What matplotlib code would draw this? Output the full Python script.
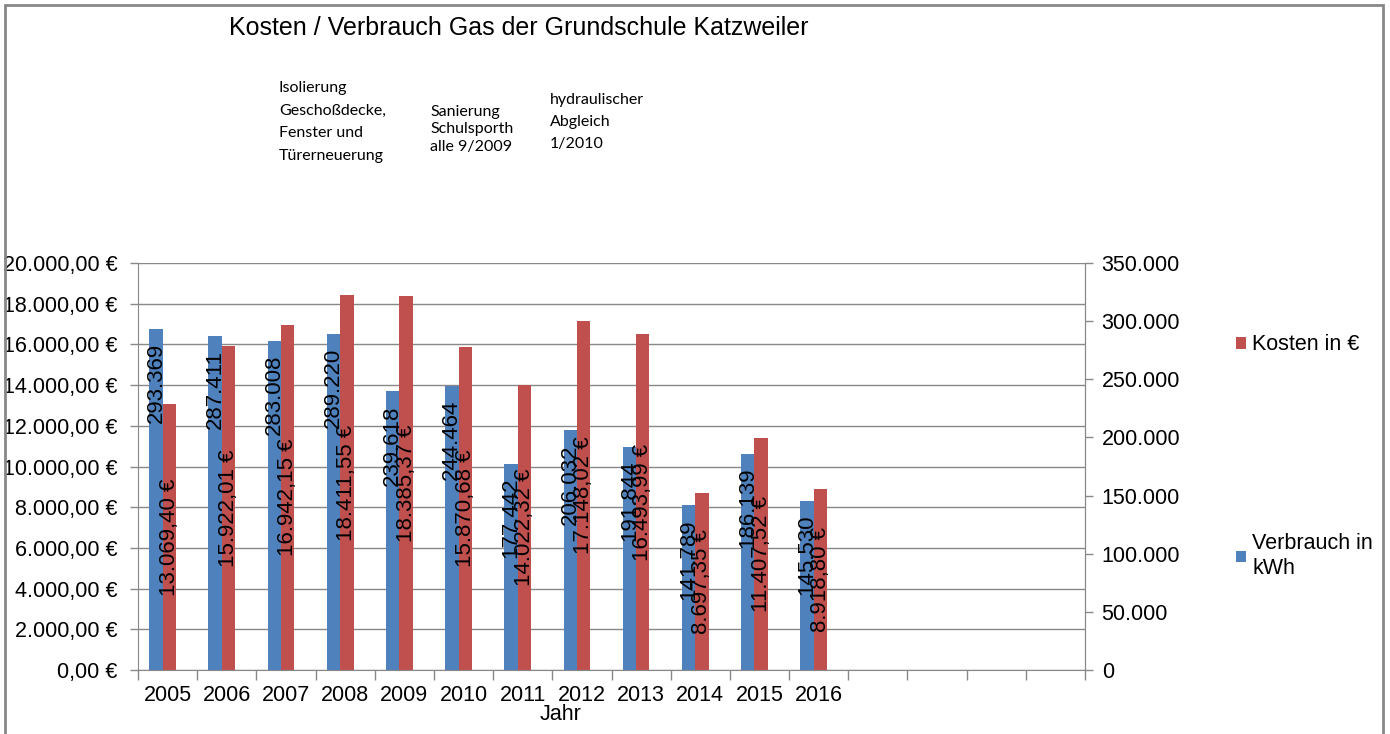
import matplotlib
matplotlib.use("Agg")
import matplotlib.pyplot as plt
from matplotlib.patches import Rectangle
from matplotlib.ticker import FixedLocator, NullFormatter

plt.rcParams['font.family'] = ['Liberation Sans', 'DejaVu Sans']

# Daten
jahre = ['2005', '2006', '2007', '2008', '2009', '2010',
         '2011', '2012', '2013', '2014', '2015', '2016']
verbrauch = [293369, 287411, 283008, 289220, 239618, 244464,
             177442, 206032, 191844, 141789, 186139, 145530]
kosten = [13069.40, 15922.01, 16942.15, 18411.55, 18385.37, 15870.68,
          14022.32, 17148.02, 16493.99, 8697.35, 11407.52, 8918.80]
n_slots = 16  # 4 leere Kategorien am Ende

blau = '#4F81BD'
rot = '#C0504D'
grau = '#888888'


def de_int(v):
    return f"{v:,}".replace(',', '.')


def de_euro(v):
    s = f"{v:,.2f}".replace(',', '#').replace('.', ',').replace('#', '.')
    return s + ' €'


fig = plt.figure(figsize=(13.9, 7.34), dpi=100)
ax = fig.add_axes([138/1390, 1 - 670/734, (1085-138)/1390, (670-263)/734])
ax2 = ax.twinx()

x = list(range(len(jahre)))
bw = 0.226
xb = [i - 0.197 for i in x]
xr = [i + 0.029 for i in x]

bars_k = ax.bar(xr, kosten, width=bw, color=rot, zorder=2)
bars_v = ax2.bar(xb, verbrauch, width=bw, color=blau, zorder=2)

ax.set_xlim(-0.5, n_slots - 0.5)
ax.set_ylim(0, 20000)
ax2.set_ylim(0, 350000)

# linke Achse
yt = list(range(0, 20001, 2000))
ax.set_yticks(yt)
ax.set_yticklabels([de_euro(v) for v in yt])
ax.yaxis.grid(True, color=grau, lw=1)
ax.set_axisbelow(True)

# rechte Achse
yt2 = list(range(0, 350001, 50000))
ax2.set_yticks(yt2)
ax2.set_yticklabels(['0'] + [de_int(v) for v in yt2[1:]])

# x-Achse: Striche an den Grenzen, Beschriftung in der Mitte
ax.xaxis.set_major_locator(FixedLocator([i - 0.5 for i in range(n_slots + 1)]))
ax.xaxis.set_major_formatter(NullFormatter())
ax.xaxis.set_minor_locator(FixedLocator(x))
ax.set_xticklabels(jahre, minor=True)
ax.tick_params(axis='x', which='major', length=7, width=1, color=grau, direction='out')
ax.tick_params(axis='x', which='minor', length=0, pad=11, labelsize=15.5)
ax.tick_params(axis='y', length=6, width=1, color=grau, pad=8.5, labelsize=15.5)
ax2.tick_params(axis='y', length=6, width=1, color=grau, pad=6, labelsize=15.5)

for a in (ax, ax2):
    a.spines['top'].set_visible(False)
    for s in ('left', 'right', 'bottom'):
        a.spines[s].set_color(grau)
ax2.spines['left'].set_visible(False)
ax2.spines['bottom'].set_visible(False)

# Datenbeschriftungen
for xi, v in zip(xb, verbrauch):
    ax2.annotate(de_int(v), xy=(xi, v), xytext=(0, -10), textcoords='offset points',
                 rotation=90, ha='center', va='top', fontsize=16, zorder=5)
for xi, k in zip(xr, kosten):
    ax2.annotate(de_euro(k), xy=(xi, k / 2), xycoords=ax.transData,
                 rotation=90, ha='center', va='center', fontsize=16, zorder=5)

# Titel und Achsentitel
fig.text(519/1390, 1 - 28/734, 'Kosten / Verbrauch Gas der Grundschule Katzweiler',
         ha='center', va='center', fontsize=18)
fig.text(561/1390, 1 - 715/734, 'Jahr', ha='center', va='center', fontsize=15.5)

# Anmerkungen
notizen = [
    (279, 88, 22.7, ['Isolierung', 'Geschoßdecke,', 'Fenster und', 'Türerneuerung']),
    (430, 112, 17.5, ['Sanierung', 'Schulsporth', 'alle 9/2009']),
    (550, 100, 22, ['hydraulischer', 'Abgleich', '1/2010']),
]
for nx, ny, dy, zeilen in notizen:
    for j, z in enumerate(zeilen):
        fig.text(nx/1390, 1 - (ny + j * dy)/734, z, ha='left', va='center',
                 fontsize=11.5, family=['Lato', 'DejaVu Sans'])

# Legende
fig.legend([bars_k], ['Kosten in €'], loc='center left',
           bbox_to_anchor=(1236/1390, 1 - 345/734), frameon=False, fontsize=15.5,
           handlelength=0.45, handleheight=0.45, handletextpad=0.3, borderpad=0,
           borderaxespad=0)
fig.legend([bars_v], ['Verbrauch in\nkWh'], loc='center left',
           bbox_to_anchor=(1236/1390, 1 - 556/734), frameon=False, fontsize=15.5,
           handlelength=0.45, handleheight=0.45, handletextpad=0.3, borderpad=0,
           borderaxespad=0)

# Rahmen
fig.add_artist(Rectangle((5/1390, -0.02), (1383-5)/1390, 1 - 5/734 + 0.02,
                         transform=fig.transFigure, fill=False, edgecolor=grau, lw=2))

plt.savefig('out.png', dpi=100)
